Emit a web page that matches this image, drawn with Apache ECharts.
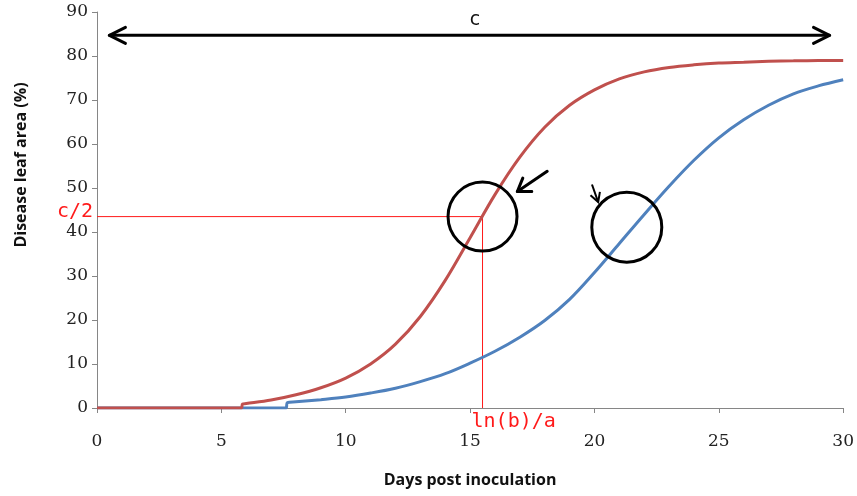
<!DOCTYPE html>
<html>
<head>
<meta charset="utf-8">
<script src="https://cdn.jsdelivr.net/npm/echarts@6/dist/echarts.min.js"></script>
<style>
  html, body { margin: 0; padding: 0; background: #fff; }
  #main { width: 857px; height: 496px; }
</style>
</head>
<body>
<div id="main"></div>
<script>
// curve (days, % leaf area)
const redX = [0, 5.8, 5.85, 6, 7, 8, 9, 10, 11, 12, 13, 14, 15, 16, 17, 18, 19, 20, 21, 22, 23, 24, 25, 26, 27, 28, 29, 30];
const redY = [0, 0, 0.9, 1.0, 1.8, 3.0, 4.6, 6.8, 10, 14.5, 20.8, 29, 38.7, 48.5, 57, 63.8, 68.8, 72.3, 74.8, 76.4, 77.4, 78, 78.4, 78.6, 78.8, 78.9, 79, 79];

const blueX = [0, 7.6, 7.65, 8, 9, 10, 11, 12, 13, 14, 15, 16, 17, 18, 19, 20, 21, 22, 23, 24, 25, 26, 27, 28, 29, 30];
const blueY = [0, 0, 1.2, 1.4, 1.9, 2.5, 3.4, 4.5, 6, 7.8, 10.2, 12.9, 16.1, 19.9, 24.7, 30.8, 37.4, 44, 50.4, 56.3, 61.4, 65.5, 68.8, 71.4, 73.2, 74.6];

const xTicks = [0, 5, 10, 15, 20, 25, 30];
const yTicks = [0, 10, 20, 30, 40, 50, 60, 70, 80, 90];

// annotation points in data units
const halfC = 43.5;
const halfDay = 15.5;
const cArrowY = 84.7;
const cArrowX = [0.5, 29.45];
const circle1 = [15.5, 43.5];
const circle2 = [21.3, 41.1];
const arrow1 = [[18.1, 53.8], [16.9, 49.2]];
const arrow2 = [[19.9, 50.8], [20.15, 46.8]];

function pairs(xs, ys) {
    return xs.map((x, i) => [x, ys[i]]);
}

var chart = echarts.init(document.getElementById('main'));

const axisFont = '"DejaVu Serif", serif';
const titleFont = '"Open Sans", sans-serif';

var option = {
    animation: false,
    grid: { left: 97, right: 13, top: 12, bottom: 88 },
    xAxis: {
        type: 'value', min: 0, max: 30, interval: 5,
        name: 'Days post inoculation',
        nameLocation: 'middle', nameGap: 64,
        nameTextStyle: { fontFamily: titleFont, fontWeight: 'bold', fontSize: 16, color: '#111' },
        axisLine: { lineStyle: { color: '#868686', width: 1 } },
        axisTick: { show: true, length: 5, lineStyle: { color: '#868686' } },
        axisLabel: { margin: 25, fontSize: 17, color: '#222', fontFamily: axisFont,
            formatter: v => xTicks.includes(v) ? String(v) : '' },
        splitLine: { show: false }
    },
    yAxis: {
        type: 'value', min: 0, max: 90, interval: 10,
        axisLine: { show: true, lineStyle: { color: '#868686', width: 1 } },
        axisTick: { show: true, length: 5, lineStyle: { color: '#868686' } },
        axisLabel: { margin: 9, fontSize: 17, color: '#222', fontFamily: axisFont,
            formatter: v => yTicks.includes(v) ? String(v) : '' },
        splitLine: { show: false }
    },
    series: [
        {
            name: 'guide', type: 'line', symbol: 'none', silent: true,
            data: [[0, halfC], [halfDay, halfC], [halfDay, 0]],
            lineStyle: { color: '#ff1a1a', width: 1 }, z: 1
        },
        {
            name: 'blue', type: 'line', symbol: 'none', smooth: 0.35,
            data: pairs(blueX, blueY),
            lineStyle: { color: '#4f81bd', width: 3 }, z: 2
        },
        {
            name: 'red', type: 'line', symbol: 'none', smooth: 0.35,
            data: pairs(redX, redY),
            lineStyle: { color: '#c0504d', width: 3 }, z: 3
        }
    ]
};
chart.setOption(option);

function px(p) {
    return chart.convertToPixel({ gridIndex: 0 }, p);
}

// open chevron at tip pointing along (tip - from)
function chevron(tip, from, len, half) {
    let dx = tip[0] - from[0], dy = tip[1] - from[1];
    let d = Math.sqrt(dx * dx + dy * dy);
    dx /= d; dy /= d;
    let nx = -dy, ny = dx;
    return [
        [tip[0] - dx * len + nx * half, tip[1] - dy * len + ny * half],
        tip,
        [tip[0] - dx * len - nx * half, tip[1] - dy * len - ny * half]
    ];
}

function drawAnnotations() {
    const black = { stroke: '#000', lineWidth: 3, fill: null, lineCap: 'round', lineJoin: 'round' };
    let g = [];

    // c double arrow
    let a = px([cArrowX[0], cArrowY]), b = px([cArrowX[1], cArrowY]);
    g.push({ type: 'line', shape: { x1: a[0], y1: a[1], x2: b[0], y2: b[1] }, style: black });
    g.push({ type: 'polyline', shape: { points: chevron(a, b, 16, 8) }, style: black });
    g.push({ type: 'polyline', shape: { points: chevron(b, a, 16, 8) }, style: black });
    let cp = px([15.2, 88.2]);
    g.push({ type: 'text', x: cp[0], y: cp[1], style: { text: 'c', fill: '#111', font: '19px "DejaVu Sans", sans-serif', align: 'center', verticalAlign: 'middle' } });

    // circles
    let c1 = px(circle1), c2 = px(circle2);
    g.push({ type: 'circle', shape: { cx: c1[0], cy: c1[1], r: 34.5 }, style: black, z: 10 });
    g.push({ type: 'circle', shape: { cx: c2[0], cy: c2[1], r: 35 }, style: black, z: 10 });

    // arrows pointing at the circles
    let t1 = px(arrow1[0]), h1 = px(arrow1[1]);
    g.push({ type: 'line', shape: { x1: t1[0], y1: t1[1], x2: h1[0], y2: h1[1] }, style: black });
    g.push({ type: 'polyline', shape: { points: chevron(h1, t1, 12, 8) }, style: black });
    let t2 = px(arrow2[0]), h2 = px(arrow2[1]);
    g.push({ type: 'line', shape: { x1: t2[0], y1: t2[1], x2: h2[0], y2: h2[1] }, style: { stroke: '#000', lineWidth: 2 } });
    g.push({ type: 'polyline', shape: { points: chevron(h2, t2, 9, 5) }, style: { stroke: '#000', lineWidth: 2, fill: null } });

    // red labels
    let hp = px([0, halfC]);
    g.push({ type: 'text', x: hp[0] - 4, y: hp[1] - 5, style: { text: 'c/2', fill: '#ff1a1a', font: '20px "DejaVu Sans Mono", monospace', align: 'right', verticalAlign: 'middle' } });
    let vp = px([halfDay, 0]);
    g.push({ type: 'text', x: vp[0] - 11, y: vp[1] + 14, style: { text: 'ln(b)/a', fill: '#ff1a1a', font: '20px "DejaVu Sans Mono", monospace', align: 'left', verticalAlign: 'middle' } });

    // y axis title
    g.push({ type: 'text', x: 21, y: 165, rotation: Math.PI / 2,
        style: { text: 'Disease leaf area (%)', fill: '#111', font: 'bold 16px ' + titleFont, align: 'center', verticalAlign: 'middle' } });

    chart.setOption({ graphic: g });
}
drawAnnotations();
</script>
</body>
</html>
